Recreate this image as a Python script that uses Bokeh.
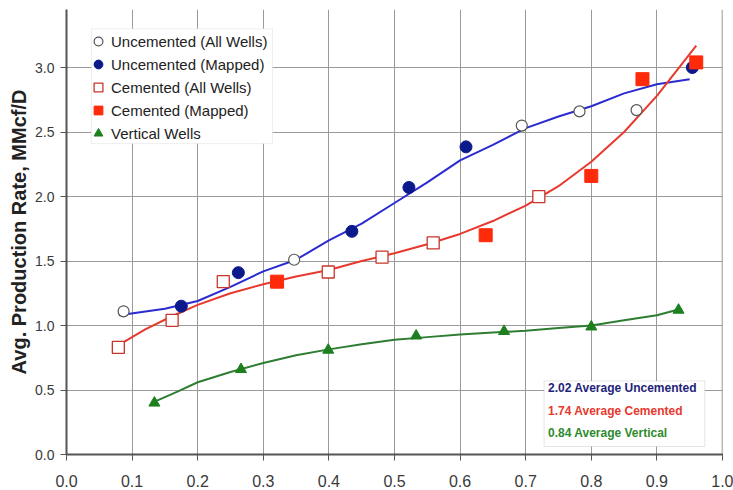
from bokeh.plotting import figure
from bokeh.models import (Legend, LegendItem, BoxAnnotation, Label, FixedTicker,
                          Range1d, Span)
from bokeh.embed import file_html
from bokeh.resources import INLINE

# ---- data ----
unc_all_x = [0.087, 0.347, 0.694, 0.782, 0.869]
unc_all_y = [1.11, 1.51, 2.55, 2.66, 2.67]

unc_map_x = [0.175, 0.262, 0.435, 0.522, 0.609, 0.954]
unc_map_y = [1.15, 1.41, 1.73, 2.07, 2.385, 3.00]

cem_all_x = [0.079, 0.161, 0.239, 0.399, 0.481, 0.559, 0.720]
cem_all_y = [0.83, 1.04, 1.34, 1.415, 1.53, 1.64, 2.00]

cem_map_x = [0.321, 0.639, 0.800, 0.878, 0.960]
cem_map_y = [1.34, 1.70, 2.16, 2.91, 3.04]

vert_x = [0.134, 0.266, 0.399, 0.533, 0.667, 0.800, 0.933]
vert_y = [0.40, 0.66, 0.81, 0.92, 0.955, 0.99, 1.12]

# trend curves
unc_trend_x = [0.08, 0.15, 0.20, 0.25, 0.30, 0.35, 0.40, 0.45, 0.50, 0.55,
               0.60, 0.65, 0.70, 0.75, 0.80, 0.85, 0.90, 0.95]
unc_trend_y = [1.08, 1.13, 1.19, 1.30, 1.42, 1.51, 1.66, 1.79, 1.95, 2.11,
               2.28, 2.40, 2.53, 2.62, 2.70, 2.80, 2.87, 2.91]

cem_trend_x = [0.08, 0.12, 0.16, 0.20, 0.25, 0.30, 0.35, 0.40, 0.45, 0.50,
               0.55, 0.60, 0.65, 0.70, 0.75, 0.80, 0.85, 0.90, 0.96]
cem_trend_y = [0.85, 0.97, 1.07, 1.16, 1.25, 1.32, 1.38, 1.43, 1.50, 1.56,
               1.63, 1.71, 1.81, 1.93, 2.08, 2.27, 2.50, 2.78, 3.17]

vert_trend_x = [0.13, 0.17, 0.20, 0.25, 0.30, 0.35, 0.40, 0.45, 0.50, 0.55,
                0.60, 0.65, 0.70, 0.75, 0.80, 0.85, 0.90, 0.93]
vert_trend_y = [0.40, 0.49, 0.56, 0.64, 0.71, 0.77, 0.815, 0.855, 0.89, 0.91,
                0.93, 0.945, 0.96, 0.98, 1.00, 1.04, 1.08, 1.12]

legend_labels = ["Uncemented (All Wells)", "Uncemented (Mapped)",
                 "Cemented (All Wells)", "Cemented (Mapped)", "Vertical Wells"]
summary_lines = ["2.02 Average Uncemented", "1.74 Average Cemented",
                 "0.84 Average Vertical"]
y_title = "Avg. Production Rate, MMcf/D"
x_ticks = [0.0, 0.1, 0.2, 0.3, 0.4, 0.5, 0.6, 0.7, 0.8, 0.9, 1.0]
y_ticks = [0.0, 0.5, 1.0, 1.5, 2.0, 2.5, 3.0]

FONT = "Liberation Sans"
BLUE_LINE = "#2B2BD0"
RED_LINE = "#E8392E"
GREEN_LINE = "#2E7D32"

p = figure(frame_width=656, frame_height=445, output_backend="svg",
           toolbar_location=None,
           x_range=Range1d(0, 1.0), y_range=Range1d(0, 3.45),
           min_border_left=66, min_border_right=11, min_border_top=9,
           min_border_bottom=0)
p.outline_line_color = None
p.background_fill_color = "white"

# axes
for ax in (p.xaxis[0], p.yaxis[0]):
    ax.axis_line_color = "#555555"
    ax.axis_line_width = 2
    ax.major_tick_line_color = "#555555"
    ax.major_tick_out = 6
    ax.major_tick_in = 1
    ax.minor_tick_line_color = None
    ax.major_label_text_font = FONT
    ax.major_label_text_color = "#3A3A3A"
p.xaxis[0].major_label_text_font_size = "16px"
p.yaxis[0].major_label_text_font_size = "14px"
p.xaxis[0].ticker = FixedTicker(ticks=x_ticks)
p.yaxis[0].ticker = FixedTicker(ticks=y_ticks)
p.xaxis[0].major_label_overrides = {t: f"{t:.1f}" for t in x_ticks}
p.yaxis[0].major_label_overrides = {t: f"{t:.1f}" for t in y_ticks}
p.xaxis[0].major_label_standoff = 14
p.yaxis[0].major_label_standoff = 6
p.yaxis[0].axis_label = y_title
p.yaxis[0].axis_label_text_font = FONT
p.yaxis[0].axis_label_text_font_size = "20px"
p.yaxis[0].axis_label_text_font_style = "bold"
p.yaxis[0].axis_label_text_color = "#222222"
p.yaxis[0].axis_label_standoff = 2

# grid
p.xgrid.grid_line_color = "#9A9A9A"
p.ygrid.grid_line_color = "#9A9A9A"
p.xgrid.grid_line_width = 1
p.ygrid.grid_line_width = 1
p.add_layout(Span(location=1.0, dimension="height", line_color="#777777",
                  line_width=1.5))

# trend lines
p.line(unc_trend_x, unc_trend_y, line_color=BLUE_LINE, line_width=2)
p.line(cem_trend_x, cem_trend_y, line_color=RED_LINE, line_width=2)
p.line(vert_trend_x, vert_trend_y, line_color=GREEN_LINE, line_width=2)

# markers
r1 = p.scatter(unc_all_x, unc_all_y, marker="circle", size=11,
               fill_color="white", line_color="#555555", line_width=1.2)
r2 = p.scatter(unc_map_x, unc_map_y, marker="circle", size=12,
               fill_color="#0B1A8A", line_color="#0B1A8A")
r3 = p.scatter(cem_all_x, cem_all_y, marker="square", size=12,
               fill_color="white", line_color="#C8352A", line_width=1.3)
r4 = p.scatter(cem_map_x, cem_map_y, marker="square", size=13,
               fill_color="#FF2A0A", line_color="#FF2A0A")
r5 = p.scatter(vert_x, vert_y, marker="triangle", size=11,
               fill_color="#1E7F1E", line_color="#1E7F1E")

# legend frame (white box with light border) drawn behind the legend entries
p.add_layout(BoxAnnotation(left=0.038, right=0.314, bottom=2.41, top=3.30,
                           fill_color="white", fill_alpha=1,
                           line_color="#C8C8C8", line_width=1))

legend = Legend(items=[LegendItem(label=l, renderers=[r])
                       for l, r in zip(legend_labels, [r1, r2, r3, r4, r5])],
                location=(20, 310))
legend.label_text_font = FONT
legend.label_text_font_size = "15px"
legend.label_text_color = "#222222"
legend.label_height = 22
legend.glyph_height = 22
legend.glyph_width = 24
legend.label_standoff = 1
legend.spacing = 1
legend.padding = 0
legend.margin = 0
legend.border_line_color = None
legend.background_fill_alpha = 0
p.add_layout(legend, "center")

# summary box
p.add_layout(BoxAnnotation(left=0.728, right=0.973, bottom=0.062, top=0.57,
                           fill_color="white", fill_alpha=1,
                           line_color="#AAAAAA", line_width=1))
summary_colors = ["#1F237A", "#E8392E", "#2E8B2E"]
summary_y = [0.513, 0.334, 0.163]
for txt, c, yy in zip(summary_lines, summary_colors, summary_y):
    p.add_layout(Label(x=0.734, y=yy, text=txt, text_color=c,
                       text_font=FONT, text_font_size="12px",
                       text_font_style="bold", text_baseline="middle"))

with open("out.html", "w") as f:
    f.write(file_html(p, INLINE))
